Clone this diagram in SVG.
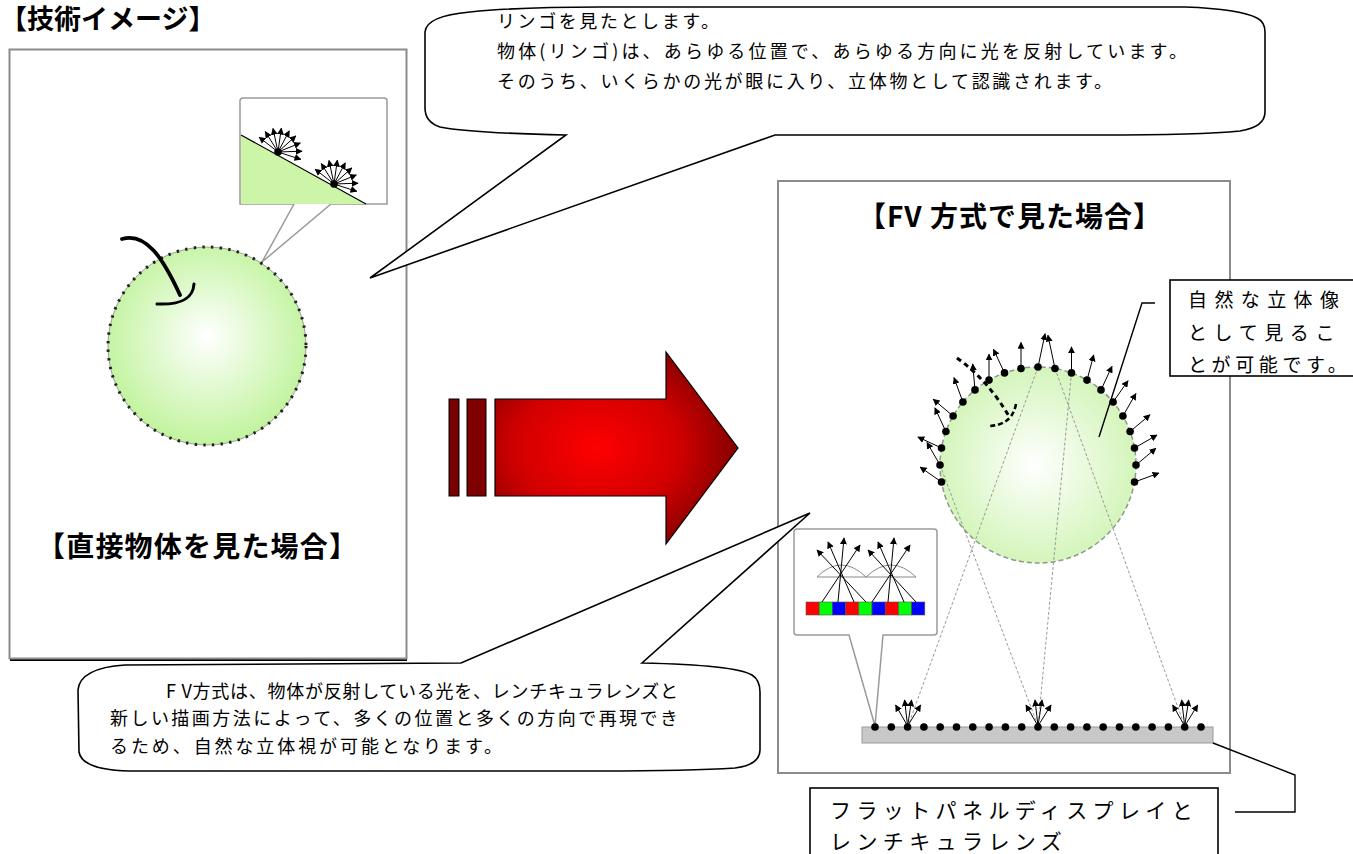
<svg xmlns="http://www.w3.org/2000/svg" xmlns:xlink="http://www.w3.org/1999/xlink" width="1353" height="854" viewBox="0 0 1353 854">
<style>
  .jp { font-family: "Noto Sans CJK JP", "Noto Sans", sans-serif; fill: #000; }
  .ttl { font-family: "Noto Sans CJK JP", "Noto Sans", sans-serif; font-weight: bold; fill: #000; }
  .panel { fill: #fff; stroke: #8c8c8c; stroke-width: 2; }
  .bubble { fill: #fff; stroke: #000; stroke-width: 1.6; stroke-linejoin: miter; }
  .inset { fill: #fff; stroke: #9a9a9a; stroke-width: 1.5; }
  .ray { stroke: #000; stroke-width: 1; fill: none; marker-end: url(#ah); }
  .dash { stroke: #9a9a9a; stroke-width: 1; stroke-dasharray: 3 2; fill: none; }
  .lead { stroke: #000; stroke-width: 1.4; fill: none; }
  .label { fill: #fff; stroke: #000; stroke-width: 1.6; }
</style>
<defs>
  <marker id="ah" viewBox="0 0 10 10" refX="9" refY="5" markerWidth="7" markerHeight="7" markerUnits="userSpaceOnUse" orient="auto">
    <path d="M0,0 L10,5 L0,10 z" fill="#000"/>
  </marker>
  <radialGradient id="appleL" cx="0.5" cy="0.47" r="0.55" fx="0.5" fy="0.45">
    <stop offset="0" stop-color="#ffffff"/>
    <stop offset="1" stop-color="#bff39a"/>
  </radialGradient>
  <radialGradient id="appleR" cx="0.5" cy="0.5" r="0.55" fx="0.48" fy="0.5">
    <stop offset="0" stop-color="#ffffff"/>
    <stop offset="1" stop-color="#d0f4b4"/>
  </radialGradient>
  <radialGradient id="redG" cx="0.42" cy="0.5" r="0.62">
    <stop offset="0" stop-color="#ff0000"/>
    <stop offset="0.55" stop-color="#d00000"/>
    <stop offset="1" stop-color="#780000"/>
  </radialGradient>
  <!-- fan of reflected rays on the sloped surface -->
  <g id="fan">
    <line class="ray" x1="0" y1="0" x2="-18.9" y2="-14.8"/>
    <line class="ray" x1="0" y1="0" x2="-12.7" y2="-20.4"/>
    <line class="ray" x1="0" y1="0" x2="-5" y2="-23.5"/>
    <line class="ray" x1="0" y1="0" x2="3.3" y2="-23.8"/>
    <line class="ray" x1="0" y1="0" x2="11.3" y2="-21.2"/>
    <line class="ray" x1="0" y1="0" x2="17.8" y2="-16.1"/>
    <line class="ray" x1="0" y1="0" x2="22.3" y2="-9"/>
    <line class="ray" x1="0" y1="0" x2="24" y2="-0.8"/>
    <line class="ray" x1="0" y1="0" x2="22.8" y2="7.4"/>
    <circle r="3.8" fill="#000"/>
  </g>
  <!-- small fan emitted from one lens of the panel -->
  <g id="bfan">
    <line class="ray" x1="0" y1="0" x2="-12" y2="-21"/>
    <line class="ray" x1="0" y1="0" x2="-3" y2="-26"/>
    <line class="ray" x1="0" y1="0" x2="4" y2="-26"/>
    <line class="ray" x1="0" y1="0" x2="13" y2="-21"/>
  </g>
</defs>

<rect width="1353" height="854" fill="#fff"/>

<!-- page heading -->
<g id="heading">
  <text class="ttl" x="0" y="29" font-size="27">【技術イメージ】</text>
</g>

<!-- left panel: looking at the object directly -->
<g id="panel-direct">
  <line x1="10" y1="660" x2="407" y2="660" stroke="#000" stroke-width="2"/>
  <rect class="panel" x="9.5" y="49.5" width="397" height="609"/>
  <!-- magnified surface inset -->
  <path class="inset" d="M243,98 L384,98 Q387,98 387,101 L387,204 L331,204 L262,262 L294,204 L240,204 L240,101 Q240,98 243,98 Z"/>
  <polygon points="241,135 366,204 241,204" fill="#ccf5a8"/>
  <line x1="241" y1="135" x2="366" y2="204" stroke="#000" stroke-width="1.2"/>
  <use xlink:href="#fan" x="278" y="152"/>
  <use xlink:href="#fan" x="334" y="184"/>
  <!-- apple -->
  <circle cx="207" cy="346" r="99" fill="url(#appleL)" stroke="#888" stroke-width="0.8"/>
  <circle cx="207" cy="346" r="99" fill="none" stroke="#222" stroke-width="3" stroke-dasharray="2.4 6.3"/>
  <path d="M122,239 C146,232 163,258 180,295" fill="none" stroke="#000" stroke-width="3.8" stroke-linecap="round"/>
  <path d="M194,284 C193,299 181,305 157,304" fill="none" stroke="#000" stroke-width="3" stroke-linecap="round"/>
  <text class="ttl" x="37" y="557" font-size="28" letter-spacing="1.2">【直接物体を見た場合】</text>
</g>

<!-- explanation balloon for the direct view -->
<g id="balloon-top">
  <path class="bubble" d="M425,32 Q426,16 470,12 Q520,7 600,7 L1185,7 Q1240,9 1257,18 Q1265,22 1265,32 L1265,112 Q1265,127 1240,131 Q1200,135 1100,135 L775,135 L370,278 L566,135 Q470,133 440,127 Q425,122 425,108 Z"/>
  <text class="jp" x="497" y="28" font-size="18" textLength="222">リンゴを見たとします。</text>
  <text class="jp" x="497" y="58" font-size="18" textLength="690">物体(リンゴ)は、あらゆる位置で、あらゆる方向に光を反射しています。</text>
  <text class="jp" x="497" y="88" font-size="18" textLength="615">そのうち、いくらかの光が眼に入り、立体物として認識されます。</text>
</g>

<!-- big transition arrow -->
<g id="arrow">
  <rect x="449" y="399" width="10" height="97" fill="#7a0000" stroke="#000" stroke-width="1"/>
  <rect x="467" y="399" width="19" height="97" fill="#7f0000" stroke="#000" stroke-width="1"/>
  <polygon points="495,399 666,399 666,352 738,448 666,544 666,496 495,496" fill="url(#redG)" stroke="#000" stroke-width="1.2" stroke-linejoin="miter"/>
</g>

<!-- right panel: viewing with the FV method -->
<g id="panel-fv">
  <rect class="panel" x="778" y="181" width="452" height="592"/>
  <text class="ttl" x="858" y="227" font-size="28" letter-spacing="1">【FV 方式で見た場合】</text>
  <!-- reproduced apple -->
  <circle cx="1038" cy="465" r="98" fill="url(#appleR)" stroke="#8a9a88" stroke-width="1.5" stroke-dasharray="5 3"/>
  <g id="fv-rays">
    <line class="dash" x1="1038" y1="367" x2="908" y2="726"/>
    <line class="dash" x1="1055" y1="368.5" x2="1184.7" y2="726"/>
    <line class="dash" x1="1071.5" y1="372.9" x2="1038" y2="726"/>
    <line class="dash" x1="940" y1="465" x2="1038" y2="726"/>
  </g>
  <path d="M957,358 Q988,380 1010,418" fill="none" stroke="#000" stroke-width="3" stroke-dasharray="5 4"/>
  <path d="M1016,404 Q1012,426 987,426" fill="none" stroke="#000" stroke-width="2.5" stroke-dasharray="5 3"/>
  <g id="surface-rays">
    <line class="ray" x1="941.5" y1="482" x2="920.2" y2="467.1"/>
    <line class="ray" x1="940" y1="465" x2="927" y2="442.5"/>
    <line class="ray" x1="941.5" y1="448" x2="917.9" y2="437"/>
    <line class="ray" x1="945.9" y1="431.5" x2="934.9" y2="407.9"/>
    <line class="ray" x1="953.1" y1="416" x2="933.2" y2="399.3"/>
    <line class="ray" x1="962.9" y1="402" x2="954" y2="377.6"/>
    <line class="ray" x1="975" y1="389.9" x2="972.7" y2="364"/>
    <line class="ray" x1="989" y1="380.1" x2="989" y2="354.1"/>
    <line class="ray" x1="1004.5" y1="372.9" x2="993.5" y2="349.3"/>
    <line class="ray" x1="1021" y1="368.5" x2="1021" y2="342.5"/>
    <line class="ray" x1="1038" y1="367" x2="1045.1" y2="333.7"/>
    <line class="ray" x1="1055" y1="368.5" x2="1047.9" y2="335.2"/>
    <line class="ray" x1="1071.5" y1="372.9" x2="1071.5" y2="346.9"/>
    <line class="ray" x1="1087" y1="380.1" x2="1093.7" y2="355"/>
    <line class="ray" x1="1101" y1="389.9" x2="1112" y2="366.3"/>
    <line class="ray" x1="1113.1" y1="402" x2="1128" y2="380.7"/>
    <line class="ray" x1="1122.9" y1="416" x2="1135.9" y2="393.5"/>
    <line class="ray" x1="1130.1" y1="431.5" x2="1150" y2="414.8"/>
    <line class="ray" x1="1134.5" y1="448" x2="1157" y2="435"/>
    <line class="ray" x1="1136" y1="465" x2="1155.9" y2="448.3"/>
    <line class="ray" x1="1134.5" y1="482" x2="1158.9" y2="473.1"/>
  </g>
  <g id="surface-dots" fill="#000">
    <circle cx="941.5" cy="482" r="3.8"/><circle cx="940" cy="465" r="3.8"/><circle cx="941.5" cy="448" r="3.8"/>
    <circle cx="945.9" cy="431.5" r="3.8"/><circle cx="953.1" cy="416" r="3.8"/><circle cx="962.9" cy="402" r="3.8"/>
    <circle cx="975" cy="389.9" r="3.8"/><circle cx="989" cy="380.1" r="3.8"/><circle cx="1004.5" cy="372.9" r="3.8"/>
    <circle cx="1021" cy="368.5" r="3.8"/><circle cx="1038" cy="367" r="3.8"/><circle cx="1055" cy="368.5" r="3.8"/>
    <circle cx="1071.5" cy="372.9" r="3.8"/><circle cx="1087" cy="380.1" r="3.8"/><circle cx="1101" cy="389.9" r="3.8"/>
    <circle cx="1113.1" cy="402" r="3.8"/><circle cx="1122.9" cy="416" r="3.8"/><circle cx="1130.1" cy="431.5" r="3.8"/>
    <circle cx="1134.5" cy="448" r="3.8"/><circle cx="1136" cy="465" r="3.8"/><circle cx="1134.5" cy="482" r="3.8"/>
  </g>
  <!-- lens / pixel inset -->
  <path class="inset" d="M797,529 L934,529 Q937,529 937,532 L937,632 Q937,635 934,635 L883,635 L875,726 L849,635 L797,635 Q794,635 794,632 L794,532 Q794,529 797,529 Z"/>
  <g id="pixels" stroke="#555" stroke-width="0.6">
    <rect x="806" y="602" width="13.2" height="13" fill="#ff0000"/>
    <rect x="819.2" y="602" width="13.2" height="13" fill="#00ff00"/>
    <rect x="832.4" y="602" width="13.2" height="13" fill="#0000ff"/>
    <rect x="845.6" y="602" width="13.2" height="13" fill="#ff0000"/>
    <rect x="858.8" y="602" width="13.2" height="13" fill="#00ff00"/>
    <rect x="872" y="602" width="13.2" height="13" fill="#0000ff"/>
    <rect x="885.2" y="602" width="13.2" height="13" fill="#ff0000"/>
    <rect x="898.4" y="602" width="13.2" height="13" fill="#00ff00"/>
    <rect x="911.6" y="602" width="13.2" height="13" fill="#0000ff"/>
  </g>
  <path d="M817,577 Q841,553 866,577 Z" fill="#fff" stroke="#888" stroke-width="1"/>
  <path d="M866,577 Q891,553 916,577 Z" fill="#fff" stroke="#888" stroke-width="1"/>
  <g id="lens-rays">
    <line class="ray" x1="822" y1="602" x2="860" y2="545"/>
    <line class="ray" x1="838" y1="602" x2="844" y2="538"/>
    <line class="ray" x1="854" y1="602" x2="828" y2="542"/>
    <line class="ray" x1="866" y1="602" x2="817" y2="550"/>
    <line class="ray" x1="872" y1="602" x2="910" y2="545"/>
    <line class="ray" x1="888" y1="602" x2="894" y2="538"/>
    <line class="ray" x1="904" y1="602" x2="878" y2="542"/>
    <line class="ray" x1="916" y1="602" x2="868" y2="550"/>
  </g>
  <!-- flat panel display with lenticular lens -->
  <rect x="862" y="727" width="351" height="16" fill="#c8c8c8" stroke="#9a9a9a" stroke-width="1"/>
  <use xlink:href="#bfan" x="907.6" y="726"/>
  <use xlink:href="#bfan" x="1038" y="726"/>
  <use xlink:href="#bfan" x="1184.7" y="726"/>
  <g id="panel-dots" fill="#000">
    <circle cx="875" cy="727" r="3.8"/><circle cx="891.3" cy="727" r="3.8"/><circle cx="907.6" cy="727" r="3.8"/>
    <circle cx="923.9" cy="727" r="3.8"/><circle cx="940.2" cy="727" r="3.8"/><circle cx="956.5" cy="727" r="3.8"/>
    <circle cx="972.8" cy="727" r="3.8"/><circle cx="989.1" cy="727" r="3.8"/><circle cx="1005.4" cy="727" r="3.8"/>
    <circle cx="1021.7" cy="727" r="3.8"/><circle cx="1038" cy="727" r="3.8"/><circle cx="1054.3" cy="727" r="3.8"/>
    <circle cx="1070.6" cy="727" r="3.8"/><circle cx="1086.9" cy="727" r="3.8"/><circle cx="1103.2" cy="727" r="3.8"/>
    <circle cx="1119.5" cy="727" r="3.8"/><circle cx="1135.8" cy="727" r="3.8"/><circle cx="1152.1" cy="727" r="3.8"/>
    <circle cx="1168.4" cy="727" r="3.8"/><circle cx="1184.7" cy="727" r="3.8"/><circle cx="1201" cy="727" r="3.8"/>
  </g>
</g>

<!-- explanation balloon for the FV method -->
<g id="balloon-bottom">
  <path class="bubble" d="M78,690 Q80,668 125,665 L461,663 L810,513 L642,663 Q735,665 752,675 Q760,680 760,692 L760,750 Q760,765 735,768 Q690,771 600,771 L130,771 Q82,770 79,752 Z"/>
  <text class="jp" x="166" y="698" font-size="18" textLength="512">F V方式は、物体が反射している光を、レンチキュラレンズと</text>
  <text class="jp" x="110" y="725" font-size="18" textLength="568">新しい描画方法によって、多くの位置と多くの方向で再現でき</text>
  <text class="jp" x="110" y="753" font-size="18" textLength="392">るため、自然な立体視が可能となります。</text>
</g>

<!-- label boxes -->
<g id="label-natural">
  <rect class="label" x="1170" y="280" width="200" height="96"/>
  <text class="jp" x="1188" y="307" font-size="19" letter-spacing="7.4">自然な立体像</text>
  <text class="jp" x="1188" y="340" font-size="19" letter-spacing="6.6">として見るこ</text>
  <text class="jp" x="1188" y="372" font-size="19" letter-spacing="4.6">とが可能です。</text>
</g>
<g id="label-panel">
  <rect class="label" x="810" y="788" width="408" height="90"/>
  <text class="jp" x="830" y="818" font-size="21" letter-spacing="5.4">フラットパネルディスプレイと</text>
  <text class="jp" x="830" y="849" font-size="21" letter-spacing="5.4">レンチキュラレンズ</text>
</g>

<!-- leader lines -->
<g id="connectors">
  <polyline class="lead" points="1099,437 1142,303 1155,303"/>
  <polyline class="lead" points="1213,743 1295,775 1295,812 1235,812"/>
</g>
</svg>
